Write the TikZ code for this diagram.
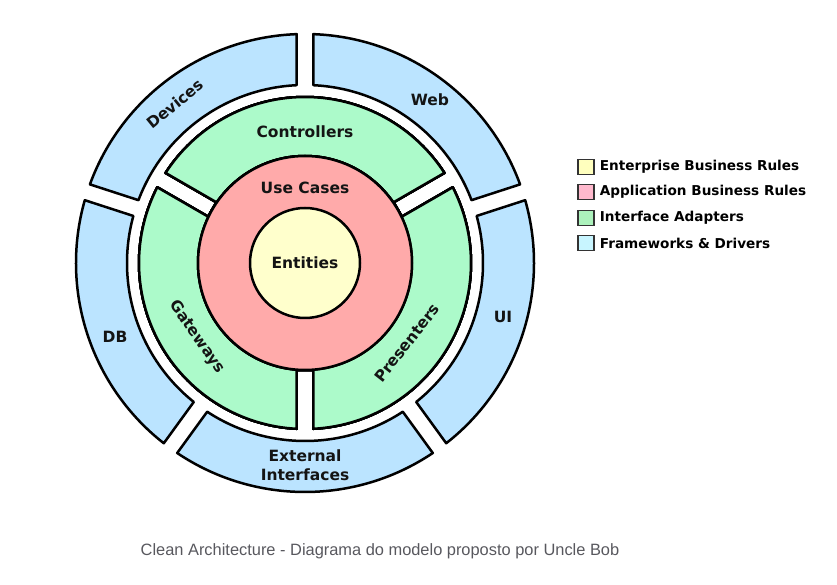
\documentclass[tikz,border=0pt]{standalone}
\usepackage{fontspec}
\setmainfont{DejaVu Sans}
\newfontfamily\capfont{Liberation Sans}
\usepackage{tikz}
\usetikzlibrary{positioning}
\usepackage{xcolor}

\definecolor{entyellow}{RGB}{255,255,204}
\definecolor{ucred}{RGB}{255,170,170}
\definecolor{iagreen}{RGB}{172,250,202}
\definecolor{fwblue}{RGB}{187,228,255}
\definecolor{keyyellow}{RGB}{255,255,190}
\definecolor{keypink}{RGB}{255,185,205}
\definecolor{keygreen}{RGB}{172,242,188}
\definecolor{keycyan}{RGB}{200,245,255}
\definecolor{capgray}{RGB}{88,88,94}

\tikzset{
	ring/.style={draw=black, line width=2.5pt, line join=round},
	lbl/.style={inner sep=0pt, align=center, text=black!92, font=\bfseries\fontsize{15.5}{18.6}\selectfont},
	legbox/.style={draw=black!80, line width=1.4pt, minimum width=16pt, minimum height=15pt, inner sep=0pt},
	legtxt/.style={inner sep=0pt, anchor=west, font=\bfseries\fontsize{13.6}{16}\selectfont},
	caption/.style={inner sep=0pt, text=capgray, font=\capfont\fontsize{16.4}{19}\selectfont}
}

% one piece of a ring: inner r, outer r, from angle, to angle, fill
\newcommand{\ringpart}[5]{%
	\pgfmathsetmacro{\ao}{asin(8.3/#2)}
	\pgfmathsetmacro{\ai}{asin(8.3/#1)}
	\pgfmathsetmacro{\sa}{#3+\ao}
	\pgfmathsetmacro{\ea}{#4-\ao}
	\pgfmathsetmacro{\sb}{#4-\ai}
	\pgfmathsetmacro{\eb}{#3+\ai}
	\filldraw[ring, fill=#5] (\sa:#2) arc[start angle=\sa, end angle=\ea, radius=#2]
		-- (\sb:#1) arc[start angle=\sb, end angle=\eb, radius=#1] -- cycle;
}

\begin{document}
\begin{tikzpicture}[x=1pt,y=1pt]
	\useasboundingbox (-305,-322) rectangle (532,263);
	% frameworks & drivers
	\foreach \a in {18,90,162,234,306}
		\ringpart{178}{229}{\a}{\a+72}{fwblue}
	% interface adapters
	\foreach \a in {30,150,270}
		\ringpart{107}{166}{\a}{\a+120}{iagreen}
	% use cases and entities
	\filldraw[ring, fill=ucred] (0,0) circle (107);
	\filldraw[ring, fill=entyellow] (0,0) circle (55);

	\node[lbl] (entities) at (0,0) {Entities};
	\node[lbl] (usecases) at (0,75) {Use Cases};
	\node[lbl] (controllers) at (0,131) {Controllers};
	\node[lbl, rotate=-55] (gateways) at (-108,-74) {Gateways};
	\node[lbl, rotate=52] (presenters) at (102,-80) {Presenters};
	\node[lbl, rotate=39] (devices) at (-130,159) {Devices};
	\node[lbl] (web) at (125,163) {Web};
	\node[lbl] (db) at (-190,-74) {DB};
	\node[lbl] (ui) at (198,-54) {UI};
	\node[lbl] (external) at (0,-202) {External\\Interfaces};

	% legend
	\node[legbox, fill=keyyellow] (keyent) at (281,96) {};
	\node[legbox, fill=keypink] (keyapp) at (281,71) {};
	\node[legbox, fill=keygreen] (keyia) at (281,45) {};
	\node[legbox, fill=keycyan] (keyfw) at (281,20) {};
	\node[legtxt, right=5pt of keyent] (keyenttxt) {Enterprise Business Rules};
	\node[legtxt, right=5pt of keyapp] (keyapptxt) {Application Business Rules};
	\node[legtxt, right=5pt of keyia] (keyiatxt) {Interface Adapters};
	\node[legtxt, right=5pt of keyfw] (keyfwtxt) {Frameworks \& Drivers};

	\node[caption] (cap) at (75,-288) {Clean Architecture - Diagrama do modelo proposto por Uncle Bob};
\end{tikzpicture}
\end{document}
